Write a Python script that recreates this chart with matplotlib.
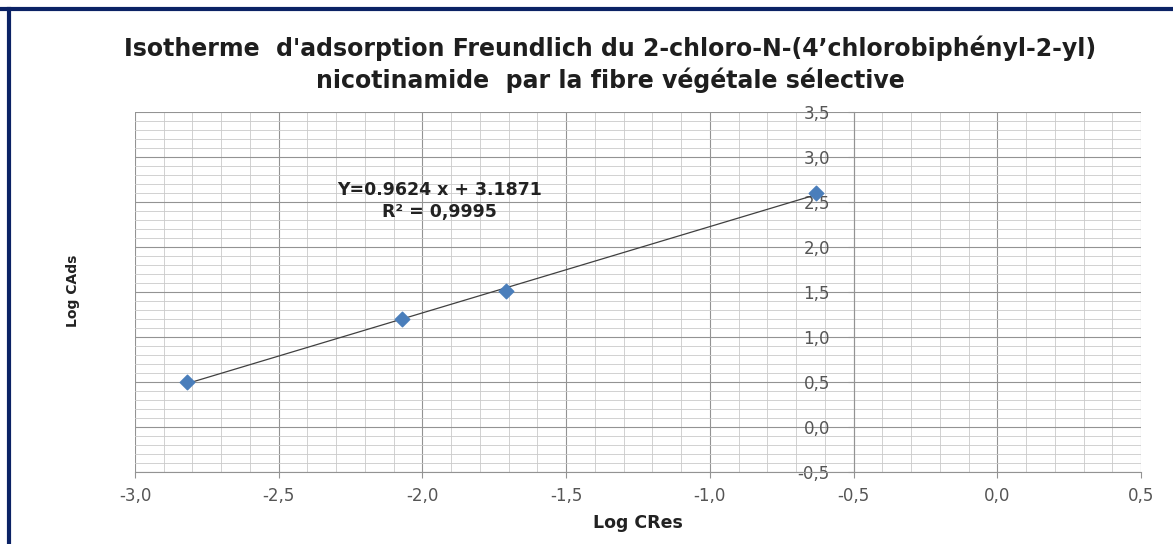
import numpy as np
import matplotlib
matplotlib.use('Agg')
import matplotlib.pyplot as plt
from matplotlib.ticker import MultipleLocator, FuncFormatter
from matplotlib.lines import Line2D

# data
log_cres = [-2.82, -2.07, -1.71, -0.63]
log_cads = [0.50, 1.20, 1.51, 2.60]

title = ("Isotherme  d'adsorption Freundlich du 2-chloro-N-(4\u2019chlorobiph\u00e9nyl-2-yl)\n"
         "nicotinamide  par la fibre v\u00e9g\u00e9tale s\u00e9lective")
eq_text = "Y=0.9624 x + 3.1871\nR\u00b2 = 0,9995"

plt.rcParams['font.family'] = ['DejaVu Sans']

fig = plt.figure(figsize=(11.73, 5.44), dpi=100)
ax = fig.add_axes([135/1173, 1 - 472/544, (1141-135)/1173, (472-112)/544])

ax.set_xlim(-3.0, 0.5)
ax.set_ylim(-0.5, 3.5)

ax.xaxis.set_major_locator(MultipleLocator(0.5))
ax.xaxis.set_minor_locator(MultipleLocator(0.1))
ax.yaxis.set_major_locator(MultipleLocator(0.5))
ax.yaxis.set_minor_locator(MultipleLocator(0.1))

comma = FuncFormatter(lambda v, p: f"{v:.1f}".replace('.', ','))
ax.xaxis.set_major_formatter(comma)
ax.yaxis.set_major_formatter(comma)

ax.grid(True, which='major', color='#939393', lw=0.8)
ax.grid(True, which='minor', color='#cacaca', lw=0.6)
ax.set_axisbelow(True)

for s in ['top', 'right']:
    ax.spines[s].set_visible(False)
ax.spines['left'].set_position(('data', -0.5))
ax.spines['left'].set_color('#939393')
ax.spines['bottom'].set_color('#939393')

ax.tick_params(which='minor', length=0)
ax.tick_params(which='major', length=4, color='#939393', labelsize=12,
               labelcolor='#555555')
ax.tick_params(axis='x', pad=7)
ax.tick_params(axis='y', pad=13)

# trendline from the data
a, b = np.polyfit(log_cres, log_cads, 1)
xs = np.array([min(log_cres), max(log_cres)])
ax.plot(xs, a * xs + b, color='#404040', lw=0.9, zorder=3)
ax.scatter(log_cres, log_cads, marker='D', s=55, color='#4a7ebb', zorder=4)

ax.text(-1.94, 2.51, eq_text, ha='center', va='center', fontsize=12.5,
        fontweight='bold', color='#222222', linespacing=1.3)

ax.set_xlabel('Log CRes', fontsize=12.5, fontweight='bold', color='#222222', labelpad=6)
fig.text(73/1173, 1 - 291/544, 'Log CAds', rotation=90, ha='center', va='center',
         fontsize=10, fontweight='bold', color='#222222')

fig.text(610/1173, 1 - 64/544, title, ha='center', va='center', fontsize=17,
         fontweight='bold', color='#1e1e1e', linespacing=1.3)

# frame of the picture (top and left edges)
fig.add_artist(Line2D([0, 1], [1 - 9/544, 1 - 9/544], transform=fig.transFigure,
                      color='#0b2265', lw=3))
fig.add_artist(Line2D([9/1173, 9/1173], [0, 1 - 9/544], transform=fig.transFigure,
                      color='#0b2265', lw=3))

fig.savefig('out.png', dpi=100)
